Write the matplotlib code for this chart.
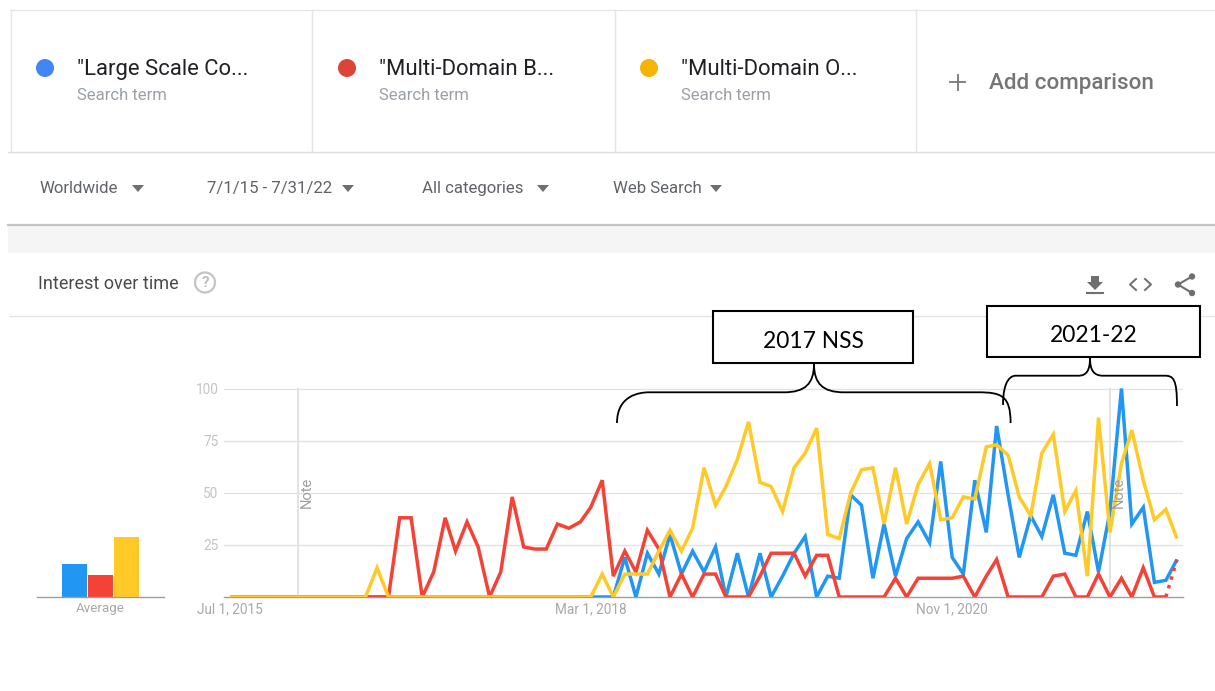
import matplotlib
matplotlib.use("Agg")
import matplotlib.pyplot as plt
import pandas as pd
from matplotlib.path import Path
from matplotlib.patches import PathPatch, Rectangle, Circle, Polygon

plt.rcParams['font.family'] = ['Roboto', 'DejaVu Sans']

W, H = 1215, 691

dates = pd.date_range("2015-07-01", "2022-07-01", freq="MS")

blue = [0]*35 + [19, 0, 21, 11, 30, 11, 22, 12, 24, 0, 21, 0, 21, 0, 10, 21, 29, 0, 10, 9,
                 49, 44, 9, 35, 10, 28, 36, 26, 65, 19, 11, 56, 31, 82, 49, 19, 39, 29, 49,
                 21, 20, 41, 12, 41, 100, 35, 43, 7, 8, 18]
red = [0]*15 + [38, 38, 0, 12, 38, 22, 36, 24, 0, 12, 48, 24, 23, 23, 35, 33, 36, 43, 56,
                10, 22, 12, 32, 23, 0, 11, 0, 11, 11, 0, 0, 0, 10, 21, 21, 21, 10, 20, 20,
                0, 0, 0, 0, 0, 9, 0, 9, 9, 9, 9, 10, 0, 10, 18, 0, 0, 0, 0, 10, 11, 0, 0,
                11, 0, 9, 0, 14, 0, 0, 18]
yellow = [0]*13 + [14] + [0]*19 + [11, 0, 11, 11, 11, 22, 32, 22, 33, 62, 44, 53, 66, 84, 55,
                                   53, 41, 62, 69, 81, 30, 28, 50, 61, 62, 35, 62, 35, 54,
                                   64, 37, 38, 48, 47, 72, 73, 68, 48, 39, 69, 78, 41, 51,
                                   10, 86, 31, 64, 80, 56, 37, 42, 28]

y_ticks = [25, 50, 75, 100]
x_tick_dates = ["2015-07-01", "2018-03-01", "2020-11-01"]
x_tick_labels = ["Jul 1, 2015", "Mar 1, 2018", "Nov 1, 2020"]
note_dates = ["2016-01-01", "2022-01-01"]

avg_values = [16, 10.5, 29]

terms = ['"Large Scale Co...', '"Multi-Domain B...', '"Multi-Domain O...']
dot_colors = ['#4285F4', '#DB4437', '#F4B400']
line_colors = ['#2196F3', '#F44336', '#FFCA28']

fig = plt.figure(figsize=(W/100, H/100), dpi=100, facecolor='white')


def px_axes(x0, y0, x1, y1):
    return fig.add_axes([x0/W, 1 - y1/H, (x1-x0)/W, (y1-y0)/H])


# page furniture, in pixel coordinates
ui = fig.add_axes([0, 0, 1, 1], zorder=0)
ui.set_xlim(0, W)
ui.set_ylim(H, 0)
ui.axis('off')

ui.add_patch(Rectangle((8, 226), W, 27, fc='#f5f5f5', ec='none'))
ui.plot([8, W], [225, 225], color='#c4c4c4', lw=1.6)
ui.plot([10, W], [10, 10], color='#e6e6e6', lw=1)
ui.plot([8, W], [152, 152], color='#dedede', lw=1)
ui.plot([10, W], [315.5, 315.5], color='#e4e4e4', lw=1)
for vx in [10.5, 312, 614.5, 916]:
    ui.plot([vx, vx], [10, 152], color='#e4e4e4', lw=1)

for i, t in enumerate(terms):
    ui.add_patch(Circle((45 + 302*i, 68), 9, fc=dot_colors[i], ec='none'))
    ui.text(77 + 302*i, 69, t, fontsize=15.9, color='#202124', va='center')
    ui.text(77 + 302*i, 95.5, "Search term", fontsize=12, color='#9aa0a6', va='center')

ui.plot([950, 965], [82, 82], color='#777777', lw=1.3)
ui.plot([957.5, 957.5], [74.5, 89.5], color='#777777', lw=1.3)
ui.text(989, 83, "Add comparison", fontsize=16.1, color='#757575', va='center',
        fontweight='medium')

filters = [("Worldwide", 40, 138), ("7/1/15 - 7/31/22", 207, 348),
           ("All categories", 422, 543), ("Web Search", 613, 716)]
for label, tx, arrow in filters:
    ui.text(tx, 188.5, label, fontsize=12.1, color='#5f6368', va='center')
    ui.add_patch(Polygon([(arrow-6, 185), (arrow+6, 185), (arrow, 192)], fc='#6f6f6f', ec='none'))

ui.text(38, 284, "Interest over time", fontsize=13, color='#4a4a4a', va='center')
ui.add_patch(Circle((205, 282.5), 10, fc='none', ec='#c4c4c4', lw=1.6))
ui.text(205, 283, "?", fontsize=11, color='#bdbdbd', ha='center', va='center', fontweight='bold')

# toolbar icons
ui.add_patch(Polygon([(1091, 276), (1099, 276), (1099, 282), (1103, 282), (1095, 290), (1087, 282), (1091, 282)],
                     fc='#6f6f6f', ec='none'))
ui.plot([1087, 1103], [293, 293], color='#6f6f6f', lw=1.5)
ui.plot([1136, 1130, 1136], [279, 284.5, 290], color='#6f6f6f', lw=1.4)
ui.plot([1145, 1151, 1145], [279, 284.5, 290], color='#6f6f6f', lw=1.4)
ui.plot([1192, 1178, 1192], [276.5, 284.5, 293], color='#6f6f6f', lw=1.5)
for cx, cy in [(1192, 276.5), (1178, 284.5), (1192, 293)]:
    ui.add_patch(Circle((cx, cy), 3.2, fc='#6f6f6f', ec='none'))

# average bars
ax_avg = px_axes(37, 500, 164, 597)
ax_avg.set_xlim(37, 164)
ax_avg.set_ylim(0, 97/2.085)
ax_avg.bar([74.5, 100.5, 126.5], avg_values, width=25, color=line_colors)
for s in ['top', 'left', 'right']:
    ax_avg.spines[s].set_visible(False)
ax_avg.spines['bottom'].set_color('#9e9e9e')
ax_avg.spines['bottom'].set_linewidth(1)
ax_avg.set_yticks([])
ax_avg.set_xticks([100.5], ["Average"])
ax_avg.tick_params(axis='x', length=0, pad=3.5, labelsize=9.6, labelcolor='#a8a8a8')
ax_avg.patch.set_alpha(0)

# main chart
px_day = 947 / (dates[-1] - dates[0]).days
ax = px_axes(224, 380, 1183, 597)
ax.set_xlim(dates[0] - pd.Timedelta(days=6/px_day), dates[-1] + pd.Timedelta(days=6/px_day))
ax.set_ylim(0, 217/2.085)
ax.patch.set_alpha(0)
for s in ['top', 'left', 'right']:
    ax.spines[s].set_visible(False)
ax.spines['bottom'].set_color('#9e9e9e')
ax.spines['bottom'].set_linewidth(1)
for t in y_ticks:
    ax.plot([dates[0] - pd.Timedelta(days=6/px_day), dates[-1] + pd.Timedelta(days=6/px_day)], [t, t],
            color='#e3e3e3', lw=1, zorder=1)
for d in note_dates:
    ax.plot([pd.Timestamp(d)]*2, [0, 100], color='#e0e0e0', lw=1.3, zorder=1)
    ax.annotate("Note", (pd.Timestamp(d), 50), xytext=(6.5, 0), textcoords='offset points',
                rotation=90, ha='center', va='center', fontsize=10.5, color='#9e9e9e', zorder=6)

ax.plot(dates, blue, color=line_colors[0], lw=2.5, zorder=3, solid_joinstyle='miter', solid_capstyle='butt')
ax.plot(dates[:84], red[:84], color=line_colors[1], lw=2.5, zorder=4, solid_joinstyle='miter', solid_capstyle='butt')
ax.plot(dates[83:], red[83:], color=line_colors[1], lw=2.5, ls=(0, (1, 1.6)), zorder=4)
ax.plot(dates, yellow, color=line_colors[2], lw=2.5, zorder=5, solid_joinstyle='miter', solid_capstyle='butt')

ax.set_yticks([0] + y_ticks, [""] + [str(t) for t in y_ticks])
ax.set_xticks([pd.Timestamp(d) for d in x_tick_dates], x_tick_labels)
ax.tick_params(axis='y', length=0, pad=4, labelsize=9.8, labelcolor='#c4c4c4')
ax.tick_params(axis='x', length=0, pad=3.5, labelsize=9.8, labelcolor='#a8a8a8')

# pasted callouts on top
top = fig.add_axes([0, 0, 1, 1], zorder=10)
top.set_xlim(0, W)
top.set_ylim(H, 0)
top.axis('off')
top.patch.set_alpha(0)


def brace(x0, y0, xa, ya, xb, xtip, ytip, xc, xd, xe, ye):
    verts = [(x0, y0), (x0, ya + (y0-ya)*0.1), (xa - (xa-x0)*0.3, ya), (xa, ya),
             (xb, ya),
             (xb + (xtip-xb)*0.7, ya), (xtip, ya - (ya-ytip)*0.3), (xtip, ytip),
             (xtip, ya - (ya-ytip)*0.3), (xc - (xc-xtip)*0.7, ya), (xc, ya),
             (xd, ya),
             (xd + (xe-xd)*0.7, ya), (xe, ya + (ye-ya)*0.1), (xe, ye)]
    codes = [Path.MOVETO, Path.CURVE4, Path.CURVE4, Path.CURVE4, Path.LINETO,
             Path.CURVE4, Path.CURVE4, Path.CURVE4, Path.CURVE4, Path.CURVE4, Path.CURVE4,
             Path.LINETO, Path.CURVE4, Path.CURVE4, Path.CURVE4]
    top.add_patch(PathPatch(Path(verts, codes), fc='none', ec='black', lw=1.3))


brace(617, 423, 649, 392.3, 784, 814, 364, 844, 978.4, 1010.6, 423)
brace(1003, 405, 1015.7, 375.7, 1078.4, 1090, 358, 1103, 1164.7, 1177, 406)

top.add_patch(Rectangle((713, 311), 200, 52, fc='white', ec='black', lw=1.5))
top.text(813, 341, "2017 NSS", fontsize=16.4, family='Lato', ha='center', va='center', color='black')
top.add_patch(Rectangle((987, 306), 213, 51, fc='white', ec='black', lw=1.5))
top.text(1093.5, 335, "2021-22", fontsize=16.4, family='Lato', ha='center', va='center', color='black')

fig.savefig("out.png", dpi=100)
